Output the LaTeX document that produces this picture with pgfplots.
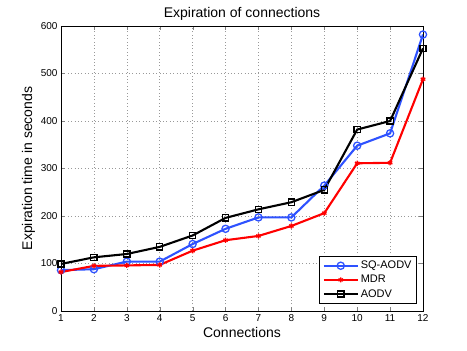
\documentclass[border=0pt]{standalone}
\usepackage{fontspec}
\setmainfont{Liberation Sans}
\usepackage{pgfplots}
\pgfplotsset{compat=1.18}
\definecolor{sqblue}{rgb}{0.18,0.32,1}
\begin{document}
\begin{tikzpicture}
\useasboundingbox (-61pt,-40pt) rectangle (406pt,311pt);
\begin{axis}[
  at={(0pt,0pt)}, anchor=south west,
  scale only axis,
  width=362pt, height=285pt,
  xmin=1, xmax=12, ymin=0, ymax=600,
  xtick={1,2,...,12},
  ytick={0,100,...,600},
  grid=major,
  grid style={black!40, line width=0.5pt, dash pattern=on 0.8pt off 2.6pt},
  tick align=inside,
  major tick length=4pt,
  axis line style={line width=0.6pt},
  /pgf/number format/assume math mode=true,
  tick label style={font=\fontsize{10}{12}\selectfont},
  label style={font=\fontsize{14}{16}\selectfont},
  title style={font=\fontsize{14}{16}\selectfont, yshift=-4pt},
  title={Expiration of connections},
  xlabel={Connections},
  ylabel={Expiration time in seconds},
  xlabel style={yshift=1pt},
  ylabel style={yshift=-1pt},
  legend cell align=left,
  legend style={at={(0.983,0.025)}, anchor=south east,
    font=\fontsize{11}{13}\selectfont, draw=black, line width=0.6pt,
    row sep=1pt, inner sep=3pt},
  legend image code/.code={
    \draw[mark repeat=2, mark phase=2] plot coordinates {(0pt,0pt) (17pt,0pt) (34pt,0pt)};
  },
]
% SQ-AODV
\addplot[color=sqblue, line width=2.1pt, mark=o, mark size=3.6pt,
  mark options={line width=1.3pt}] coordinates {
  (1,86) (2,88) (3,104) (4,104) (5,141) (6,173) (7,197) (8,197)
  (9,264) (10,348) (11,374) (12,582)
};
% MDR
\addplot[color=red, line width=2.1pt, mark=asterisk, mark size=2.6pt,
  mark options={line width=1.3pt}] coordinates {
  (1,82) (2,95) (3,96) (4,97) (5,127) (6,149) (7,158) (8,179)
  (9,206) (10,311) (11,312) (12,488)
};
% AODV
\addplot[color=black, line width=2.1pt, mark=square, mark size=3.1pt,
  mark options={line width=1.3pt}] coordinates {
  (1,99) (2,113) (3,120) (4,135) (5,159) (6,196) (7,214) (8,229)
  (9,255) (10,382) (11,400) (12,553)
};
\legend{SQ-AODV, MDR, AODV}
\end{axis}
\end{tikzpicture}
\end{document}
